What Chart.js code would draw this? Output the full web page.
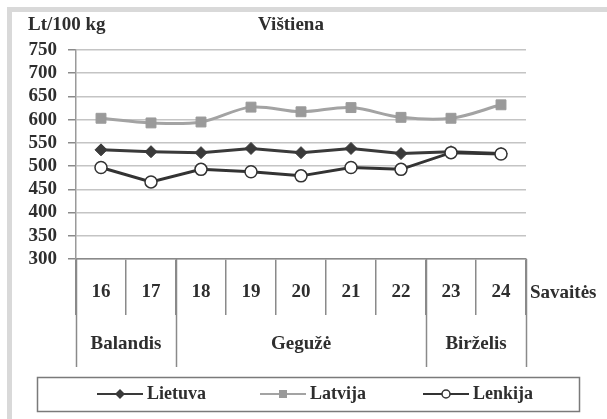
<!DOCTYPE html>
<html>
<head>
<meta charset="utf-8">
<script src="https://cdn.jsdelivr.net/npm/chart.js@4"></script>
<style>
  body { margin: 0; background: #fff; }
  canvas { display: block; }
</style>
</head>
<body>
<canvas id="vistiena" width="607" height="419" style="width:607px;height:419px"></canvas>
<script>
const weeks = ["16", "17", "18", "19", "20", "21", "22", "23", "24"];
const months = ["Balandis", "Gegužė", "Birželis"];
const monthSpans = [2, 5, 2];
const lietuva = [535, 531, 529, 538, 529, 538, 527, 531, 527];
const latvija = [603, 593, 595, 627, 617, 626, 605, 603, 632];
const lenkija = [497, 466, 493, 488, 479, 497, 493, 529, 526];
const yMin = 300, yMax = 750, yStep = 50;

const fam = "'Liberation Serif'";
const textColor = "#2e2e2e";

// rėmas, antraštės, mėnesių eilutė ir legenda
const decor = {
  id: "decor",
  beforeDraw(chart) {
    const c = chart.ctx;
    c.save();
    c.fillStyle = "#fff";
    c.fillRect(0, 0, chart.width, chart.height);
    c.fillStyle = "#d9d9d9";
    c.fillRect(7, 7, chart.width - 7, 5);
    c.fillRect(7, 7, 5, chart.height - 7);
    c.restore();
  },
  afterDraw(chart) {
    const c = chart.ctx;
    const x = chart.scales.x;
    const area = chart.chartArea;
    c.save();
    c.fillStyle = textColor;
    c.font = "bold 19px " + fam;
    c.textBaseline = "middle";
    c.textAlign = "left";
    c.fillText("Lt/100 kg", 28, 25);
    c.textAlign = "center";
    c.fillText("Vištiena", 291, 25);
    c.textAlign = "left";
    c.fillText("Savaitės", 530, 293);

    // mėnesiai
    c.strokeStyle = "#8a8a8a";
    c.lineWidth = 1.5;
    let start = 0;
    const edges = [-0.5];
    months.forEach((m, i) => {
      const end = start + monthSpans[i];
      const x0 = x.getPixelForValue(start - 0.5);
      const x1 = x.getPixelForValue(end - 0.5);
      c.textAlign = "center";
      c.fillText(m, (x0 + x1) / 2, 344);
      edges.push(end - 0.5);
      start = end;
    });
    edges.forEach(e => {
      const px = Math.round(x.getPixelForValue(e)) + 0.5;
      c.beginPath();
      c.moveTo(px, area.bottom);
      c.lineTo(px, 367);
      c.stroke();
    });

    // legenda
    c.strokeStyle = "#7a7a7a";
    c.lineWidth = 1.5;
    c.strokeRect(37.5, 377.5, 542, 34);
    const legendX = [97, 260, 423];
    c.font = "bold 18px " + fam;
    chart.data.datasets.forEach((ds, i) => {
      const lx = legendX[i], ly = 394;
      c.strokeStyle = ds.borderColor;
      c.lineWidth = 2;
      c.beginPath();
      c.moveTo(lx, ly);
      c.lineTo(lx + 46, ly);
      c.stroke();
      const mx = lx + 23;
      c.fillStyle = ds.pointBackgroundColor;
      c.strokeStyle = ds.pointBorderColor;
      c.lineWidth = 1.5;
      c.beginPath();
      if (ds.pointStyle === "rectRot") {
        c.moveTo(mx, ly - 5); c.lineTo(mx + 5, ly); c.lineTo(mx, ly + 5); c.lineTo(mx - 5, ly);
        c.closePath(); c.fill();
      } else if (ds.pointStyle === "rect") {
        c.rect(mx - 4, ly - 4, 8, 8); c.fill();
      } else {
        c.arc(mx, ly, 4, 0, Math.PI * 2); c.fill(); c.stroke();
      }
      c.fillStyle = textColor;
      c.textAlign = "left";
      c.fillText(ds.label, lx + 50, ly);
    });
    c.restore();
  }
};

Chart.defaults.font.family = fam;

const ctx = document.getElementById("vistiena").getContext("2d");
new Chart(ctx, {
  type: "line",
  data: {
    labels: weeks,
    datasets: [
      {
        label: "Lietuva",
        data: lietuva,
        borderColor: "#3a3a3a",
        borderWidth: 3,
        pointStyle: "rectRot",
        pointRadius: 6,
        pointBackgroundColor: "#3a3a3a",
        pointBorderColor: "#3a3a3a",
        pointBorderWidth: 1,
        tension: 0,
        order: 1,
      },
      {
        label: "Latvija",
        data: latvija,
        borderColor: "#a3a3a3",
        borderWidth: 3,
        pointStyle: "rect",
        pointRadius: 7,
        pointBackgroundColor: "#9a9a9a",
        pointBorderColor: "#9a9a9a",
        pointBorderWidth: 1,
        tension: 0.35,
        order: 2,
      },
      {
        label: "Lenkija",
        data: lenkija,
        borderColor: "#333333",
        borderWidth: 3,
        pointStyle: "circle",
        pointRadius: 6,
        pointBackgroundColor: "#ffffff",
        pointBorderColor: "#333333",
        pointBorderWidth: 1.5,
        tension: 0,
        order: 0,
      },
    ],
  },
  options: {
    responsive: false,
    animation: false,
    layout: { padding: { top: 50, right: 81, bottom: 0, left: 0 } },
    scales: {
      x: {
        offset: true,
        grid: {
          offset: true,
          drawOnChartArea: true,
          color: c => (c.index === weeks.length ? "#b5b5b5" : "rgba(0,0,0,0)"),
          tickColor: "#8a8a8a",
          tickLength: 56,
          lineWidth: 1.5,
        },
        border: { color: "#8a8a8a", width: 1.5 },
        ticks: {
          padding: -34,
          color: textColor,
          font: { family: fam, size: 19, weight: "bold" },
          maxRotation: 0,
          autoSkip: false,
        },
        afterFit: s => { s.height = 160; },
      },
      y: {
        min: yMin,
        max: yMax,
        ticks: {
          stepSize: yStep,
          padding: 11,
          autoSkip: false,
          color: textColor,
          font: { family: fam, size: 19, weight: "bold" },
        },
        grid: { color: "#c4c4c4", tickColor: "#8a8a8a", tickLength: 8, lineWidth: 1.5 },
        border: { color: "#9a9a9a", width: 1.5 },
        afterFit: s => { s.width = 76; },
      },
    },
    plugins: {
      legend: { display: false },
      title: { display: false },
      tooltip: { enabled: false },
    },
  },
  plugins: [decor],
});
</script>
</body>
</html>
